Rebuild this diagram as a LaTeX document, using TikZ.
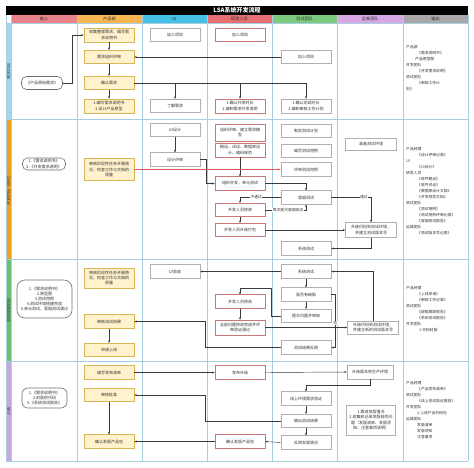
\documentclass[tikz,border=0pt]{standalone}
\usepackage{fontspec}
\setmainfont{Noto Sans CJK SC}
\usetikzlibrary{arrows.meta,calc}
\definecolor{prodline}{HTML}{D6B656}
\definecolor{prodfill}{HTML}{FFF2CC}
\definecolor{devline}{HTML}{CC7777}
\definecolor{grayline}{HTML}{B0B0B0}
\definecolor{inline}{HTML}{707070}
\definecolor{gridcol}{HTML}{A8CFE0}
\definecolor{arrcol}{HTML}{3A3A3A}
\definecolor{redarr}{HTML}{E05555}
\definecolor{hIn}{HTML}{E8838B}
\definecolor{hProd}{HTML}{F8B551}
\definecolor{hUI}{HTML}{45C1E6}
\definecolor{hDev}{HTML}{E56F73}
\definecolor{hTest}{HTML}{7DC97D}
\definecolor{hOps}{HTML}{D8A8E6}
\definecolor{hOut}{HTML}{A8A8A8}
\definecolor{phA}{HTML}{A3D8F0}
\definecolor{phB}{HTML}{F0A020}
\definecolor{phC}{HTML}{6CC070}
\definecolor{phD}{HTML}{C6A8DC}
\definecolor{txt}{HTML}{333333}
\begin{document}
\begin{tikzpicture}[x=1pt,y=-1pt,
  every node/.style={font=\fontsize{4}{5.1}\selectfont, inner sep=0.8pt, align=center, text=txt},
  base/.style={rectangle, minimum width=50, minimum height=13.5, line width=0.6pt},
  prod/.style={base, draw=prodline, fill=prodfill},
  gbox/.style={base, draw=grayline, fill=white},
  dbox/.style={base, draw=devline, fill=white},
  inbox/.style={rectangle, rounded corners=5pt, draw=inline, fill=white, line width=0.6pt},
  arr/.style={-{Stealth[length=2.4pt,width=2pt]}, draw=arrcol, line width=0.45pt},
  lbl/.style={fill=white, inner sep=0.4pt, font=\fontsize{3.8}{4.5}\selectfont},
  outtxt/.style={anchor=north west, align=left, inner sep=0, font=\fontsize{3.8}{6}\selectfont},
  hdr/.style={font=\fontsize{4.2}{5}\selectfont},
  phl/.style={rotate=90, font=\fontsize{4}{5}\selectfont},
  lane/.style={draw=gridcol, line width=0.6pt}
]
\useasboundingbox (0,0) rectangle (474,467);
\fill[white] (0,0) rectangle (474,467);
% title
\fill[black] (6,6) rectangle (468,15);
\node[text=white, font=\fontsize{6}{6}\selectfont\bfseries] (title) at (237,10.5) {LSA系统开发流程};
% headers
\fill[hIn] (11,15) rectangle (77,23);
\fill[hProd] (77,15) rectangle (142,23);
\fill[hUI] (142,15) rectangle (207,23);
\fill[hDev] (207,15) rectangle (272,23);
\fill[hTest] (272,15) rectangle (337,23);
\fill[hOps] (337,15) rectangle (403,23);
\fill[hOut] (403,15) rectangle (468,23);
\node[hdr] (nIn) at (44,19) {输入};
\node[hdr] (nProd) at (109.5,19) {产品部};
\node[hdr] (nUI) at (174.5,19) {UI};
\node[hdr] (nDev) at (239.5,19) {研发人员};
\node[hdr] (nTest) at (304.5,19) {测试团队};
\node[hdr] (nOps) at (370,19) {运维团队};
\node[hdr] (nOut) at (435.5,19) {输出};
% phase strips
\fill[phA] (6,23) rectangle (11,119);
\fill[phB] (6,119) rectangle (11,259);
\fill[phC] (6,259) rectangle (11,361);
\fill[phD] (6,361) rectangle (11,461);
\node[phl] (s1) at (8.5,71) {需求阶段};
\node[phl] (s2) at (8.5,189) {开发阶段（迭代）};
\node[phl] (s3) at (8.5,310) {测试验收阶段};
\node[phl] (s4) at (8.5,411) {上线};
% grid
\foreach \x in {6,11,77,142,207,272,337,403,468} \draw[lane] (\x,15) -- (\x,461);
\foreach \y in {23,119,259,361,461} \draw[lane] (6,\y) -- (468,\y);

% ---------- phase 1 ----------
\node[inbox, minimum width=41, minimum height=13] (in1) at (42,83) {《产品原始需求》};
\node[prod, minimum height=14] (p1a) at (109,35) {收集整理需求，编写需\\求说明书};
\node[prod] (p1b) at (109,57) {需求组织评审};
\node[prod] (p1c) at (109,83) {确认需求};
\node[prod, minimum height=14] (p1d) at (109,106) {1.编写需求说明书\\2.设计产品原型};
\node[gbox] (u1a) at (175,35) {加入项目};
\node[gbox] (u1b) at (175,106) {了解需求};
\node[dbox] (d1a) at (240,35) {加入项目};
\node[dbox, minimum height=14] (d1b) at (240,106) {1.确认开发时长\\2.编制需求开发说明};
\node[gbox] (t1a) at (306,57) {加入项目};
\node[gbox, minimum height=14] (t1b) at (306,106) {1.确认测试时长\\2.编制审核工作计划};
\draw[arr] (in1.east) -- ++(9,0) |- (p1a.west);
\draw[arr] (p1a.south) -- (p1b.north);
\draw[arr] (p1b.south) -- (p1c.north);
\draw[arr] (p1c.south) -- (p1d.north);
\draw[arr] (t1a.west) -- (p1b.east);
\draw[arr] (p1c.east) -| (t1b.north);
\draw[arr] (p1c.east -| u1b.north) -- (u1b.north);
\draw[arr] (p1c.east -| d1b.north) -- (d1b.north);
\node[outtxt] (o1) at (406,45) {产品部\\\hspace*{11pt}《需求说明书》\\\hspace*{9pt}产品原型图\\开发团队\\\hspace*{11pt}《开发需求说明》\\测试团队\\\hspace*{11pt}《审核工作计\\划》};

% ---------- phase 2 ----------
\node[inbox, minimum width=43, minimum height=12] (in2) at (44,164) {1.《需求说明书》\\2.《开发需求说明》};
\node[prod, minimum height=22] (p2a) at (109,169.5) {审核阶段性任务开展情\\况，检查工作与文档的\\质量};
\node[gbox] (u2a) at (175,130) {UI设计};
\node[gbox] (u2b) at (175,159.5) {设计评审};
\node[dbox, minimum height=17] (d2a) at (240,132.5) {组织评审，建立需求模\\型};
\node[dbox, minimum height=14] (d2b) at (240,150) {概设、详设、数据库设\\计、编码规范};
\node[dbox] (d2c) at (240,183.5) {组织开发，单元测试};
\node[dbox] (d2d) at (240,210) {开发人员修改};
\node[dbox] (d2e) at (240,230) {开发人员升级打包};
\node[gbox] (t2a) at (306,131) {制定测试计划};
\node[gbox] (t2b) at (306,151) {编写测试用例};
\node[gbox] (t2c) at (306,169.5) {评审测试用例};
\node[gbox] (t2d) at (306,197.5) {冒烟测试};
\node[gbox] (t2e) at (306,248.5) {系统测试};
\node[gbox, minimum width=51, minimum height=12] (o2a) at (371,144) {准备测试环境};
\node[gbox, minimum width=51, minimum height=15] (o2b) at (371,230) {升级代码到测试环境，\\并建立测试版本号};
\draw[arr] (u2a.south) -- (u2b.north);
\draw[arr] (u2b.east) -- ++(6,0) |- (d2c.west);
\draw[arr] (d2b.south) -- (d2c.north);
\draw[arr, draw=redarr] (p2a.east) -- (t2c.west);
\draw[arr] (d2c.east) -| (t2d.north);
\draw[arr] (t2d.west) -| node[lbl, pos=0.3] (lb1) {不通过} (d2d.north);
\draw[arr] (d2d.east) -| node[lbl, pos=0.28] (lb2) {再次提交冒烟测试} (t2d.south);
\draw[arr] (d2d.south) -- (d2e.north);
\draw[arr] (t2d.east) -| node[lbl, pos=0.41] (lb3) {通过} (o2b.north);
\draw[arr] (d2e.east) -- (o2b.west);
\draw[arr] (o2b.south) |- (t2e.east);
\node[outtxt] (o2) at (406,147) {产品经理\\\hspace*{11pt}《设计评审记录》\\UI\\\hspace*{11pt}《UI设计》\\研发人员\\\hspace*{11pt}《软件概设》\\\hspace*{11pt}《软件详设》\\\hspace*{11pt}《数据库设计文档》\\\hspace*{11pt}《开发规范文档》\\测试团队\\\hspace*{11pt}《测试用例》\\\hspace*{11pt}《测试用例评审记录》\\\hspace*{11pt}《冒烟测试报告》\\运维团队\\\hspace*{11pt}《测试版本号记录》};

% ---------- phase 3 ----------
\node[inbox, minimum width=55, minimum height=38, rounded corners=8pt] (in3) at (44.5,299) {1.《需求说明书》\\2.原型图\\3.测试用例\\4.测试环境搭建完成\\5.单元测试、冒烟测试通过};
\node[prod, minimum height=20] (p3a) at (109,278) {审核阶段性任务开展情\\况，检查工作与文档的\\质量};
\node[prod] (p3b) at (109,321.5) {审核测试结果};
\node[prod] (p3c) at (109,350) {申请上线};
\node[gbox] (u3a) at (175,271.5) {UI验收};
\node[dbox] (d3a) at (240,301.5) {开发人员修改};
\node[dbox, minimum height=15] (d3b) at (240,327.5) {全部问题修改完成并评\\审验证通过};
\node[gbox] (t3a) at (306,271.5) {系统测试};
\node[gbox] (t3b) at (306,294.5) {是否有缺陷};
\node[gbox] (t3c) at (306,316) {提交问题并审核};
\node[gbox] (t3d) at (306,347.5) {测试结果反馈};
\node[gbox, minimum width=51, minimum height=13] (o3a) at (373,327.5) {升级代码到测试环境，\\并建立新的测试版本号};
\draw[arr] (t3a.west) -- (u3a.east);
\draw[arr] (t3a.south) -- (t3b.north);
\draw[arr] (t3b.south) -- (t3c.north);
\draw[arr] (t3c.west) -- ++(-9,0) -- ++(0,-28) -| (d3a.north);
\draw[arr] (d3a.south) -- (d3b.north);
\draw[arr] (d3b.east) -- (o3a.west);
\draw[arr] (o3a.north) |- (t3a.east);
\draw[arr] (t3b.east) -- ++(4,0) |- node[lbl, pos=0.27] (lb4) {否} (t3d.east);
\draw[arr] (t3d.west) -- ++(-75,0) |- (p3b.east);
\draw[arr] (p3b.south) -- (p3c.north);
\node[outtxt] (o3) at (406,286) {产品经理\\\hspace*{11pt}《上线申请》\\\hspace*{11pt}《审核工作记录》\\测试团队\\\hspace*{11pt}《缺陷跟踪报告》\\\hspace*{11pt}《系统测试报告》\\开发团队\\\hspace*{13pt}1.代码封版};

% ---------- phase 4 ----------
\node[inbox, minimum width=45, minimum height=20, rounded corners=6pt] (in4) at (44.5,398) {1.《需求说明书》\\2.封版的代码\\3.《系统测试报告》};
\node[prod] (p4a) at (109,372.5) {编写发布清单};
\node[prod] (p4b) at (109,395) {审核批准};
\node[prod] (p4c) at (109,441.5) {确认发版产品包};
\node[dbox] (d4a) at (240,372.5) {发布升级};
\node[dbox] (d4b) at (240,441.5) {确认发版产品包};
\node[gbox] (t4a) at (306,398.5) {线上环境需求验证};
\node[gbox] (t4b) at (306,421) {输出测试结果};
\node[gbox] (t4c) at (306,442.5) {反馈发版情况};
\node[gbox, minimum width=46, minimum height=14] (o4a) at (370,372) {升级版本到生产环境};
\node[gbox, minimum width=49, minimum height=30] (o4b) at (371,420) {1.跟进发版情况\\2.收集和记录发版前的问\\题（发版清单、发版须\\知、注意事项说明）};
\draw[arr] (p4a.east) -- (d4a.west);
\draw[arr] (d4a.east) -- (o4a.west);
\draw[arr] (o4a.south) -- ++(0,6) -| (t4a.north);
\draw[arr] (t4a.south) -- (t4b.north);
\draw[arr] (t4b.south) -- (t4c.north);
\draw[arr] (t4c.west) -- (d4b.east);
\draw[arr] (d4b.west) -- (p4c.east);
\draw[arr] (t4b.west) -- ++(-75,0) |- (p4b.east);
\draw[arr] (p4b.south) -- (p4c.north);
\node[outtxt] (o4) at (406,381) {产品经理\\\hspace*{11pt}《产品发布清单》\\测试团队\\\hspace*{11pt}《线上测试验证报告》\\开发团队\\\hspace*{11pt}1.上线产品代码包\\运维团队\\\hspace*{11pt}发版清单\\\hspace*{11pt}发版须知\\\hspace*{11pt}注意事项};
\end{tikzpicture}
\end{document}
